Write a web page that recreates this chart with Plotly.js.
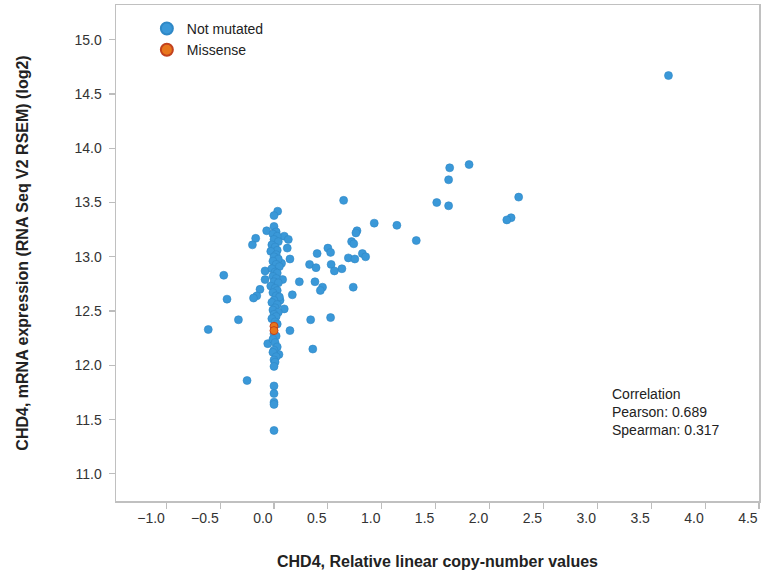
<!DOCTYPE html>
<html>
<head>
<meta charset="utf-8">
<script src="https://cdn.plot.ly/plotly-3.0.1.min.js"></script>
<style>
html,body{margin:0;padding:0;background:#fff;}
#chart{width:764px;height:575px;}
</style>
</head>
<body>
<div id="chart"></div>
<script>
// ---- data ----
const notMutatedX = [
  1.63, 1.81, 1.62, 1.51, 1.62, 2.27, 2.20, 2.16, 3.66,
  0.646, 0.93, 1.14, 1.32, 0.77, 0.76, 0.72, 0.74, 0.50, 0.525, 0.40, 0.82, 0.85, 0.69, 0.75,
  0.33, 0.39, 0.53, 0.63, 0.56, 0.235, 0.38, 0.45, 0.43, 0.735, 0.17, 0.34, 0.525, 0.36,
  0.034, 0.0, 0.0, -0.068, -0.17, -0.20, 0.095, 0.133, 0.123, 0.148, -0.466, -0.436, -0.33, -0.61,
  0.148, -0.25, 0.0, 0.0, 0.0, 0.0, 0.0, -0.058, 0.046, -0.13, -0.16, -0.19, 0.095, -0.083, -0.083,
  0.08, 0.07, 0.056,
  0.02, -0.01, 0.03, 0.00, 0.04, -0.02, 0.01, 0.03, -0.03, 0.02, 0.00, 0.04, -0.01, 0.02, 0.05,
  -0.02, 0.01, 0.03, -0.01, 0.02, 0.00, 0.04, -0.03, 0.01, 0.03, -0.01, 0.02, 0.05, 0.00, -0.02,
  0.03, 0.01, -0.01, 0.04, 0.00, 0.02, -0.02, 0.01, 0.03, 0.00, 0.02, -0.01, 0.01, 0.03, 0.00,
  -0.01, 0.02, 0.00, 0.01, 0.00
];
const notMutatedY = [
  13.82, 13.85, 13.71, 13.50, 13.47, 13.55, 13.36, 13.34, 14.67,
  13.52, 13.31, 13.29, 13.15, 13.24, 13.22, 13.14, 13.12, 13.08, 13.04, 13.03, 13.03, 13.00, 12.99, 12.98,
  12.93, 12.90, 12.93, 12.89, 12.87, 12.77, 12.77, 12.72, 12.69, 12.72, 12.65, 12.42, 12.44, 12.15,
  13.42, 13.38, 13.28, 13.24, 13.17, 13.11, 13.19, 13.16, 13.08, 12.98, 12.83, 12.61, 12.42, 12.33,
  12.32, 11.86, 11.81, 11.74, 11.66, 11.64, 11.40, 12.20, 12.10, 12.70, 12.64, 12.62, 12.52, 12.87, 12.79,
  12.79, 12.94, 12.60,
  13.23, 13.21, 13.19, 13.16, 13.14, 13.11, 13.09, 13.06, 13.05, 13.02, 13.00, 12.98, 12.96, 12.93, 12.91,
  12.89, 12.86, 12.85, 12.82, 12.80, 12.77, 12.76, 12.73, 12.71, 12.69, 12.67, 12.64, 12.63, 12.60, 12.58,
  12.56, 12.53, 12.51, 12.49, 12.47, 12.45, 12.43, 12.40, 12.38, 12.29, 12.27, 12.24, 12.21, 12.17, 12.14,
  12.12, 12.08, 12.05, 12.03, 11.99
];
const missenseX = [0.0, 0.0];
const missenseY = [12.36, 12.32];
const seriesNames = ['Not mutated', 'Missense'];
const xTitle = 'CHD4, Relative linear copy-number values';
const yTitle = 'CHD4, mRNA expression (RNA Seq V2 RSEM) (log2)';
const correlationLines = ['Correlation', 'Pearson: 0.689', 'Spearman: 0.317'];

const FONT = 'Liberation Sans, Arial, Helvetica, sans-serif';

const traces = [
  {
    type: 'scatter', mode: 'markers', name: seriesNames[0],
    x: notMutatedX, y: notMutatedY,
    marker: {color: '#3a98d8', size: 8, line: {color: '#2f88c6', width: 0.6}},
    hoverinfo: 'x+y'
  },
  {
    type: 'scatter', mode: 'markers', name: seriesNames[1],
    x: missenseX, y: missenseY,
    marker: {color: '#e8761c', size: 8, line: {color: '#c2421e', width: 1}},
    hoverinfo: 'x+y'
  }
];

const axisCommon = {
  showline: true, mirror: true, linecolor: '#c0c0c0', linewidth: 1.5,
  ticks: 'outside', ticklen: 6, tickcolor: '#bdbdbd', tickwidth: 1.2,
  showgrid: false, zeroline: false, ticklabelstandoff: 4,
  tickfont: {family: FONT, size: 14, color: '#333'}
};

const layout = {
  width: 764, height: 575,
  margin: {l: 116, r: 5, t: 5, b: 74},
  paper_bgcolor: '#fff', plot_bgcolor: '#fff',
  font: {family: FONT, color: '#222'},
  showlegend: true,
  legend: {
    x: 0.048, y: 0.984, xanchor: 'left', yanchor: 'top',
    bgcolor: 'rgba(0,0,0,0)', itemsizing: 'constant',
    font: {family: FONT, size: 14, color: '#222'}
  },
  xaxis: Object.assign({}, axisCommon, {
    range: [-1.466, 4.5], dtick: 0.5, tick0: 0, tickformat: '.1f',
    ticklabelposition: 'outside left',
    title: {text: '<b>' + xTitle + '</b>', font: {family: FONT, size: 16, color: '#222'}, standoff: 30}
  }),
  yaxis: Object.assign({}, axisCommon, {
    range: [10.75, 15.32], dtick: 0.5, tick0: 0, tickformat: '.1f',
    title: {text: '<b>' + yTitle + '</b>', font: {family: FONT, size: 16, color: '#222'}, standoff: 42}
  }),
  annotations: [{
    xref: 'paper', yref: 'paper', x: 0.768, y: 0.236,
    xanchor: 'left', yanchor: 'top', align: 'left', showarrow: false,
    text: correlationLines.join('<br>'),
    font: {family: FONT, size: 14, color: '#222'}
  }]
};

Plotly.newPlot('chart', traces, layout, {displayModeBar: false, staticPlot: true});
</script>
</body>
</html>
